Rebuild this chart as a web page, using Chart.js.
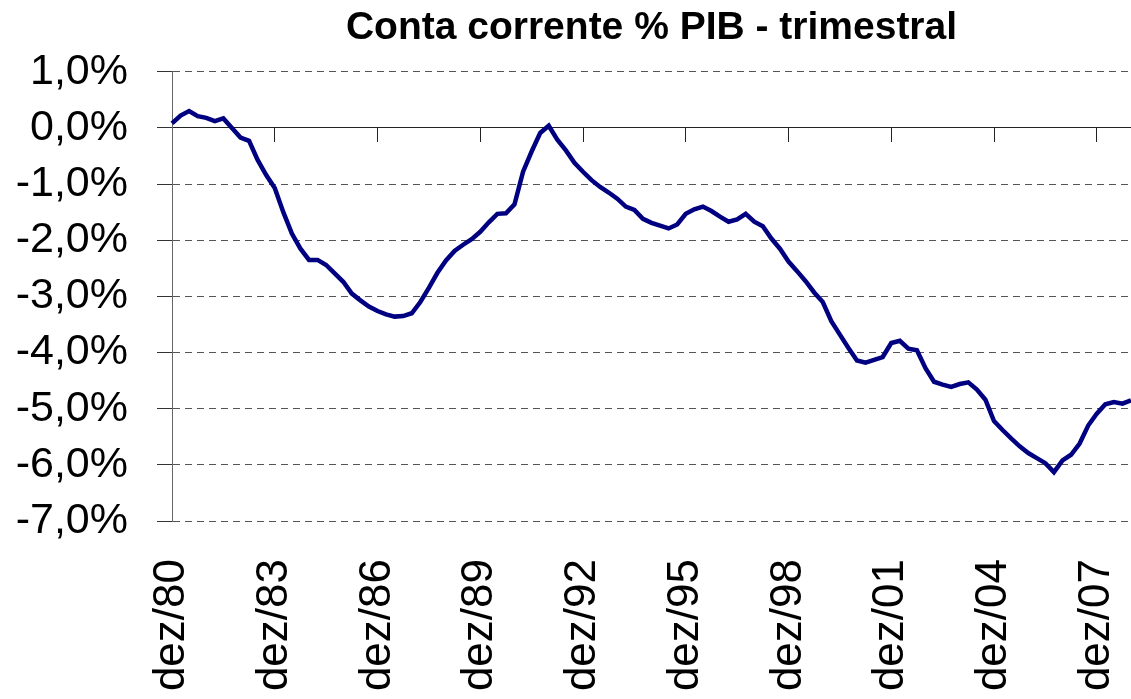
<!DOCTYPE html>
<html lang="pt">
<head>
<meta charset="utf-8">
<title>Conta corrente % PIB - trimestral</title>
<script src="https://cdn.jsdelivr.net/npm/chart.js@4/dist/chart.umd.min.js"></script>
<style>
  html, body { margin: 0; padding: 0; background: #ffffff; overflow: hidden; }
  canvas { display: block; }
</style>
</head>
<body>
<canvas id="grafico" width="1131" height="699"></canvas>
<script>
// Conta corrente em % do PIB, trimestral, de dez/80 a dez/08
const contaCorrente = [
  0.08, 0.22, 0.30, 0.21, 0.18, 0.12, 0.17, 0.00, -0.17, -0.23,
  -0.57, -0.84, -1.07, -1.50, -1.88, -2.15, -2.35, -2.35, -2.44, -2.59,
  -2.74, -2.95, -3.07, -3.18, -3.26, -3.32, -3.36, -3.35, -3.30, -3.10,
  -2.85, -2.58, -2.36, -2.19, -2.08, -1.98, -1.85, -1.68, -1.53, -1.52,
  -1.36, -0.78, -0.42, -0.09, 0.04, -0.21, -0.40, -0.62, -0.78, -0.93,
  -1.05, -1.15, -1.26, -1.40, -1.46, -1.62, -1.69, -1.74, -1.79, -1.72,
  -1.53, -1.45, -1.40, -1.48, -1.58, -1.67, -1.63, -1.53, -1.67, -1.75,
  -1.97, -2.15, -2.38, -2.55, -2.73, -2.93, -3.10, -3.44, -3.68, -3.92,
  -4.14, -4.18, -4.13, -4.08, -3.83, -3.79, -3.93, -3.96, -4.28, -4.52,
  -4.57, -4.61, -4.56, -4.53, -4.66, -4.84, -5.22, -5.38, -5.53, -5.67,
  -5.79, -5.88, -5.97, -6.13, -5.92, -5.82, -5.62, -5.30, -5.09, -4.92,
  -4.88, -4.91, -4.85
];

// meses dos trimestres e escala do eixo y
const meses = ["mar", "jun", "set", "dez"];
const anoInicial = 1980;
const passoRotulo = 12; // um rotulo a cada 3 anos
const yTicks = [-7, -6, -5, -4, -3, -2, -1, 0, 1];

const trimestres = [];
for (let i = 0; i < contaCorrente.length; i++) {
  const mes = meses[(i + 3) % 4];
  const ano = anoInicial + Math.floor((i + 3) / 4);
  trimestres.push(mes + "/" + String(ano).slice(2));
}

const fonte = "Arial, 'Liberation Sans', Helvetica, sans-serif";

function semPadding(scale) {
  scale.paddingLeft = 0;
  scale.paddingRight = 0;
}

new Chart(document.getElementById("grafico"), {
  type: "line",
  data: {
    labels: trimestres,
    datasets: [
      {
        label: "Conta corrente % PIB",
        data: contaCorrente,
        borderColor: "#000080",
        borderWidth: 4.5,
        pointRadius: 0,
        tension: 0,
        fill: false,
      },
    ],
  },
  options: {
    responsive: false,
    animation: false,
    layout: { padding: 0 },
    plugins: {
      legend: { display: false },
      tooltip: { enabled: false },
      title: {
        display: true,
        fullSize: false,
        text: "Conta corrente % PIB - trimestral",
        color: "#000000",
        font: { family: fonte, size: 39, weight: "bold" },
        padding: { top: 5, bottom: 20 },
      },
    },
    scales: {
      x: {
        type: "category",
        position: "bottom",
        grid: { display: false, drawTicks: false },
        border: { display: false },
        ticks: {
          autoSkip: false,
          minRotation: 90,
          maxRotation: 90,
          padding: 38,
          color: "#000000",
          font: { family: fonte, size: 44 },
          callback: function (value, index) {
            return index % passoRotulo === 0 ? trimestres[index] : "";
          },
        },
        afterFit: function (scale) {
          scale.height = 178;
          semPadding(scale);
        },
      },
      // eixo horizontal sobre o zero, so com as marcas
      x2: {
        type: "category",
        axis: "x",
        position: { y: 0 },
        grid: {
          drawOnChartArea: false,
          drawTicks: true,
          tickLength: 14,
          tickWidth: 1,
          tickColor: function (ctx) {
            return ctx.index % passoRotulo === 0 ? "#222222" : "rgba(0,0,0,0)";
          },
        },
        border: { display: false },
        ticks: { display: false, autoSkip: false },
        afterFit: semPadding,
      },
      y: {
        min: yTicks[0],
        max: yTicks[yTicks.length - 1],
        grid: {
          color: function (ctx) {
            return ctx.tick && ctx.tick.value === 0 ? "#222222" : "#555555";
          },
          lineWidth: 1,
          tickLength: 15,
          tickColor: "#333333",
        },
        border: {
          display: true,
          color: "#666666",
          width: 1,
          dash: function (ctx) {
            return ctx.tick && ctx.tick.value === 0 ? [] : [7, 5];
          },
        },
        ticks: {
          stepSize: 1,
          padding: 29,
          color: "#000000",
          font: { family: fonte, size: 43 },
          callback: function (value) {
            return value.toFixed(1).replace(".", ",") + "%";
          },
        },
        afterFit: function (scale) {
          scale.width = 172;
        },
      },
    },
  },
});
</script>
</body>
</html>
